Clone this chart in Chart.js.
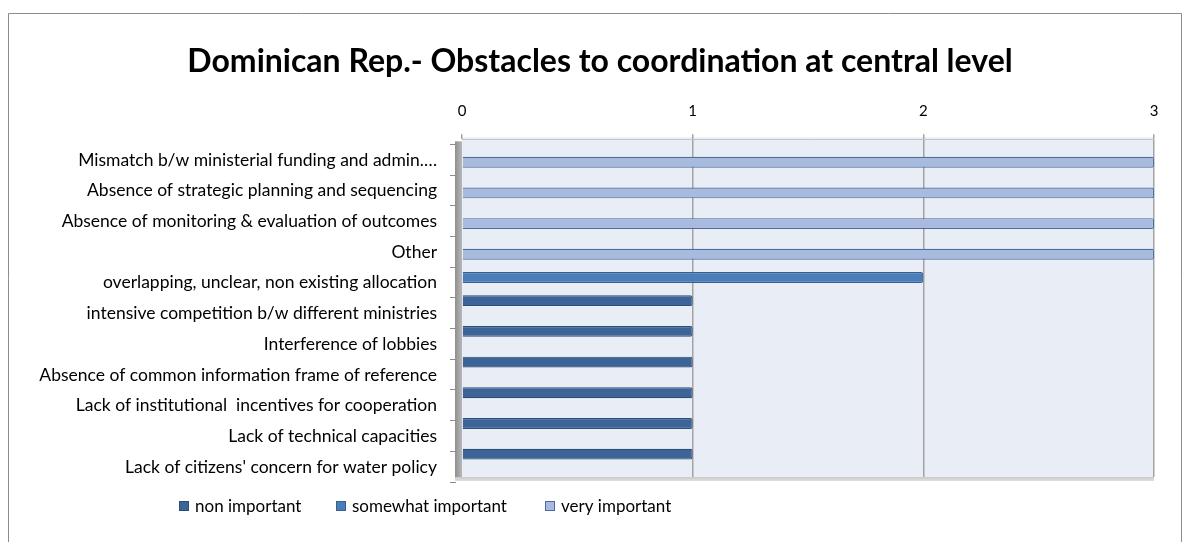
<!DOCTYPE html>
<html>
<head>
<meta charset="utf-8">
<script src="https://cdn.jsdelivr.net/npm/chart.js@4.4.1/dist/chart.umd.min.js"></script>
<style>
  html, body { margin: 0; padding: 0; background: #ffffff; }
  #wrap { width: 1189px; height: 542px; position: relative; }
</style>
</head>
<body>
<div id="wrap"><canvas id="c" width="1189" height="542"></canvas></div>
<script>
const chartTitle = 'Dominican Rep.- Obstacles to coordination at central level';
const categories = [
  'Mismatch b/w ministerial funding and admin.\u2026',
  'Absence of strategic planning and sequencing',
  'Absence of monitoring & evaluation of outcomes',
  'Other',
  'overlapping, unclear, non existing allocation',
  'intensive competition b/w different ministries',
  'Interference of lobbies',
  'Absence of common information frame of reference',
  'Lack of institutional  incentives for cooperation',
  'Lack of technical capacities',
  "Lack of citizens' concern for water policy"
];
const seriesNames = ['non important', 'somewhat important', 'very important'];
const nonImportant      = [0, 0, 0, 0, 0, 1, 1, 1, 1, 1, 1];
const somewhatImportant = [0, 0, 0, 0, 2, 0, 0, 0, 0, 0, 0];
const veryImportant     = [3, 3, 3, 3, 0, 0, 0, 0, 0, 0, 0];
const xTickValues = [0, 1, 2, 3];

const FONT = 'Lato, "Open Sans", "Liberation Sans", sans-serif';

const decor = {
  id: 'decor',
  beforeDraw(chart) {
    const { ctx, chartArea: a } = chart;
    ctx.save();
    ctx.strokeStyle = '#8c8c8c';
    ctx.lineWidth = 1;
    ctx.beginPath();
    ctx.moveTo(8.5, 560);
    ctx.lineTo(8.5, 13.5);
    ctx.lineTo(1181.5, 13.5);
    ctx.lineTo(1181.5, 560);
    ctx.stroke();
    ctx.fillStyle = '#e9edf5';
    ctx.fillRect(a.left, a.top - 2, a.right - a.left, a.bottom - a.top + 2);
    ctx.fillStyle = '#000000';
    ctx.font = 'bold 32px ' + FONT;
    ctx.textAlign = 'center';
    ctx.textBaseline = 'alphabetic';
    ctx.fillText(chartTitle, 600, 72);
    ctx.restore();
  },
  beforeDatasetsDraw(chart) {
    const { ctx, chartArea: a } = chart;
    const ys = chart.scales.y;
    ctx.save();
    ctx.strokeStyle = '#8c8c8c';
    ctx.lineWidth = 1;
    for (let i = 0; i <= categories.length; i++) {
      const y = Math.round(ys.getPixelForValue(i - 0.5) + 4.5) + 0.5;
      ctx.beginPath();
      ctx.moveTo(a.left - 12, y);
      ctx.lineTo(a.left - 6, y);
      ctx.stroke();
    }
    const g = ctx.createLinearGradient(a.left - 7, 0, a.left, 0);
    g.addColorStop(0, '#8f8f8f');
    g.addColorStop(1, '#b8b8b8');
    ctx.fillStyle = g;
    ctx.fillRect(a.left - 7, a.top + 2, 7, a.bottom - a.top + 2);
    const f = ctx.createLinearGradient(0, a.bottom, 0, a.bottom + 5);
    f.addColorStop(0, '#c9c9c9');
    f.addColorStop(1, '#e4e4e4');
    ctx.fillStyle = f;
    ctx.fillRect(a.left - 7, a.bottom, a.right - a.left + 7, 4);
    ctx.restore();
  },
  afterDraw(chart) {
    const { ctx } = chart;
    ctx.save();
    const xs = [179, 336, 545];
    const y = 506;
    ctx.font = '17px ' + FONT;
    ctx.textBaseline = 'middle';
    ctx.textAlign = 'left';
    chart.data.datasets.forEach((ds, i) => {
      ctx.fillStyle = ds.backgroundColor;
      ctx.fillRect(xs[i], y - 5, 10, 10);
      ctx.strokeStyle = ds.borderColor;
      ctx.lineWidth = 1;
      ctx.strokeRect(xs[i] + 0.5, y - 4.5, 9, 9);
      ctx.fillStyle = '#000000';
      ctx.fillText(ds.label, xs[i] + 16, y + 1);
    });
    ctx.restore();
  }
};

new Chart(document.getElementById('c'), {
  type: 'bar',
  data: {
    labels: categories,
    datasets: [
      { label: seriesNames[0], data: nonImportant, backgroundColor: '#3d6496', borderColor: '#2c4d75' },
      { label: seriesNames[1], data: somewhatImportant, backgroundColor: '#4a7ebb', borderColor: '#385f8e' },
      { label: seriesNames[2], data: veryImportant, backgroundColor: '#a8bade', borderColor: '#4b6ea0' }
    ]
  },
  options: {
    indexAxis: 'y',
    responsive: false,
    animation: false,
    devicePixelRatio: 1,
    layout: { padding: { left: 12, right: 35, top: 0, bottom: 65 } },
    datasets: {
      bar: {
        categoryPercentage: 0.733,
        barPercentage: 1.45,
        borderWidth: 1.2,
        borderRadius: 2,
        borderSkipped: 'start'
      }
    },
    scales: {
      x: {
        position: 'top',
        min: 0,
        max: 3,
        afterBuildTicks(scale) { scale.ticks = xTickValues.map(v => ({ value: v })); },
        afterFit(scale) { scale.height = 139.35; },
        grid: {
          color: (c) => (c.tick && c.tick.value === 0) ? 'rgba(0,0,0,0)' : '#a3a3a3',
          lineWidth: 1.5,
          tickColor: '#a3a3a3',
          tickLength: 5,
          drawTicks: true
        },
        border: { display: true, color: '#c4c4c4', width: 1 },
        ticks: {
          padding: 14.35,
          color: '#000000',
          font: { family: FONT, size: 15 },
          callback: (v) => String(v)
        }
      },
      y: {
        afterFit(scale) { scale.width = 450; },
        grid: { display: false, drawOnChartArea: false, drawTicks: false },
        border: { display: false },
        ticks: {
          padding: 25,
          labelOffset: 5.3,
          color: '#000000',
          autoSkip: false,
          font: { family: FONT, size: 17.5 }
        }
      }
    },
    plugins: {
      legend: { display: false },
      tooltip: { enabled: false },
      title: { display: false }
    }
  },
  plugins: [decor]
});
</script>
</body>
</html>
